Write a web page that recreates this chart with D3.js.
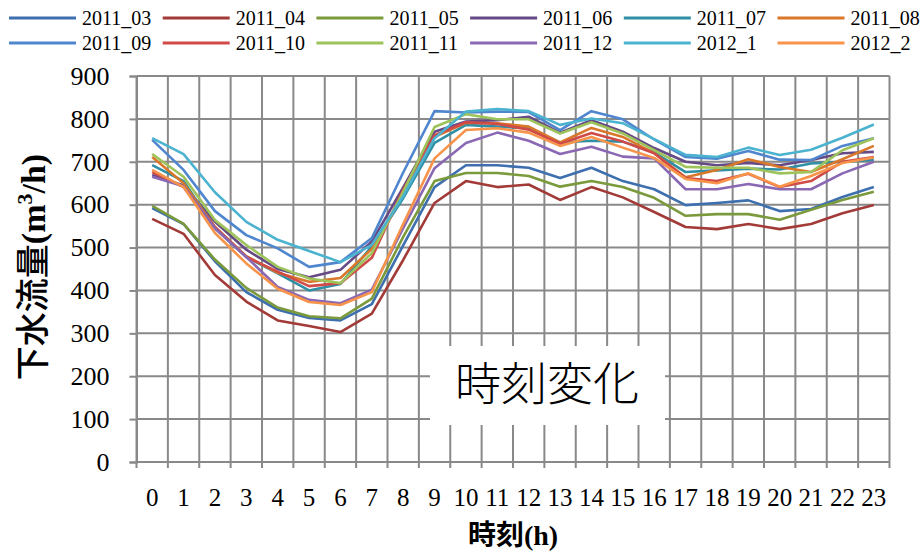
<!DOCTYPE html>
<html>
<head>
<meta charset="utf-8">
<script src="https://cdn.jsdelivr.net/npm/d3@7"></script>
<style>
  html, body { margin: 0; padding: 0; background: #ffffff; }
  svg { display: block; }
</style>
</head>
<body>
<svg id="chart" width="922" height="555"></svg>
<script>
// Hourly sewage flow (m3/h), one series per month
const hours = d3.range(0, 24);
const yTicks = [0, 100, 200, 300, 400, 500, 600, 700, 800, 900];

const s2011_03 = [592,555,468,396,355,336,330,368,505,641,692,692,686,662,686,655,636,599,604,610,585,590,618,641];
const s2011_04 = [567,532,436,374,330,317,303,346,471,604,655,641,647,611,641,617,583,548,543,555,543,555,580,599];
const s2011_05 = [597,555,472,406,360,340,335,381,525,655,674,674,667,642,655,641,616,574,578,578,565,588,611,630];
const s2011_06 = [669,645,560,495,450,431,448,514,640,770,794,797,805,768,797,770,732,700,692,697,692,704,720,723];
const s2011_07 = [692,655,545,478,440,400,415,503,615,744,786,782,778,745,749,747,722,676,680,684,682,696,700,705];
const s2011_08 = [711,650,548,480,441,420,429,497,625,758,791,790,782,745,779,758,720,664,681,706,688,676,706,737];
const s2011_09 = [751,681,585,529,498,455,466,522,675,818,815,817,816,774,818,799,752,711,707,725,705,704,737,755];
const s2011_10 = [676,641,548,478,444,410,417,476,635,762,792,788,775,742,767,747,720,662,655,672,641,655,700,711];
const s2011_11 = [718,665,564,506,455,428,417,487,630,781,811,799,799,766,792,766,727,688,686,686,673,676,727,755];
const s2011_12 = [665,643,545,478,408,378,370,402,545,685,744,768,749,718,735,712,708,636,636,648,636,636,673,700];
const s2012_1  = [755,718,629,560,518,492,466,506,620,755,817,823,818,786,801,790,753,716,711,733,716,728,756,787];
const s2012_2  = [681,641,534,463,404,373,366,396,555,708,774,778,768,737,758,733,709,660,650,673,642,667,697,710];

const seriesNames  = ["2011_03","2011_04","2011_05","2011_06","2011_07","2011_08",
                      "2011_09","2011_10","2011_11","2011_12","2012_1","2012_2"];
const seriesValues = [s2011_03,s2011_04,s2011_05,s2011_06,s2011_07,s2011_08,
                      s2011_09,s2011_10,s2011_11,s2011_12,s2012_1,s2012_2];
const seriesColors = ["#3E6FAE","#A23B38","#7A9A3C","#654A85","#2F8FA5","#D9782A",
                      "#4F86CE","#D04A47","#9DC35A","#8B68B3","#4BB3CF","#F7944A"];

const series = seriesNames.map((name, i) => ({ name, values: seriesValues[i], color: seriesColors[i] }));

const svg = d3.select("#chart");
const plot = { left: 136.5, right: 889.5, top: 76, bottom: 462 };
const gridColor = "#898989";
const SERIF = '"Liberation Serif", "Times New Roman", serif';
const GOTHIC = '"Noto Sans CJK JP", sans-serif';

const x = d3.scaleBand().domain(hours).range([plot.left, plot.right]).paddingInner(0).paddingOuter(0);
const y = d3.scaleLinear().domain([0, 900]).range([plot.bottom, plot.top]);
const cx = h => x(h) + x.bandwidth() / 2;

// Horizontal gridlines
svg.append("g")
  .selectAll("line")
  .data(yTicks)
  .join("line")
  .attr("x1", plot.left).attr("x2", plot.right)
  .attr("y1", d => y(d)).attr("y2", d => y(d))
  .attr("stroke", gridColor).attr("stroke-width", 2);

// Vertical gridlines on category boundaries
const boundaries = hours.map(h => x(h)).concat([plot.right]);
svg.append("g")
  .selectAll("line")
  .data(boundaries)
  .join("line")
  .attr("x1", d => d).attr("x2", d => d)
  .attr("y1", plot.top).attr("y2", plot.bottom + 6)
  .attr("stroke", gridColor).attr("stroke-width", 2);

// Y axis
const yAxis = d3.axisLeft(y).tickValues(yTicks).tickSize(7).tickPadding(20);
const gy = svg.append("g").attr("transform", `translate(${plot.left},0)`).call(yAxis);
gy.select(".domain").attr("stroke", gridColor).attr("stroke-width", 2);
gy.selectAll(".tick line").attr("stroke", gridColor).attr("stroke-width", 2);
gy.selectAll(".tick text")
  .style("font-family", SERIF).style("font-size", "26px").attr("fill", "#000");

// X axis labels
const xAxis = d3.axisBottom(x).tickSize(0).tickPadding(26);
const gx = svg.append("g").attr("transform", `translate(0,${plot.bottom})`).call(xAxis);
gx.select(".domain").remove();
gx.selectAll(".tick text")
  .style("font-family", SERIF).style("font-size", "25px").attr("fill", "#000");

// Series lines
const line = d3.line().x((d, i) => cx(hours[i])).y(d => y(d));
svg.append("g")
  .selectAll("path")
  .data(series)
  .join("path")
  .attr("d", d => line(d.values))
  .attr("fill", "none")
  .attr("stroke", d => d.color)
  .attr("stroke-width", 2.6)
  .attr("stroke-linejoin", "round");

// Annotation box
svg.append("rect")
  .attr("x", 430).attr("y", 346).attr("width", 235).attr("height", 79)
  .attr("fill", "#ffffff");
svg.append("text")
  .attr("x", 547).attr("y", 400)
  .attr("text-anchor", "middle")
  .style("font-family", GOTHIC)
  .style("font-weight", 300)
  .style("font-size", "46px")
  .attr("fill", "#000")
  .text("時刻変化");

// Axis titles
svg.append("text")
  .attr("transform", `translate(45,267) rotate(-90)`)
  .attr("text-anchor", "middle")
  .style("font-family", SERIF)
  .style("font-weight", "bold")
  .style("font-size", "34px")
  .attr("fill", "#000")
  .call(t => {
    t.append("tspan").style("font-family", GOTHIC).style("font-weight", 500).text("下水流量");
    t.append("tspan").text("(m");
    t.append("tspan").style("font-size", "22px").attr("dy", -13).text("3");
    t.append("tspan").attr("dy", 13).text("/h)");
  });

svg.append("text")
  .attr("x", (plot.left + plot.right) / 2).attr("y", 545)
  .attr("text-anchor", "middle")
  .style("font-family", SERIF)
  .style("font-weight", "bold")
  .style("font-size", "28px")
  .attr("fill", "#000")
  .call(t => {
    t.append("tspan").style("font-family", GOTHIC).text("時刻");
    t.append("tspan").text("(h)");
  });

// Legend: two rows of six
const legend = svg.append("g")
  .selectAll("g")
  .data(series)
  .join("g")
  .attr("transform", (d, i) => `translate(${9 + 153.7 * (i % 6)},${i < 6 ? 18 : 43})`);
legend.append("line")
  .attr("x1", 0).attr("x2", 67).attr("y1", 0).attr("y2", 0)
  .attr("stroke", d => d.color).attr("stroke-width", 3);
legend.append("text")
  .attr("x", 73).attr("y", 0).attr("dy", "0.35em")
  .style("font-family", SERIF).style("font-size", "20px").attr("fill", "#000")
  .text(d => d.name);
</script>
</body>
</html>
